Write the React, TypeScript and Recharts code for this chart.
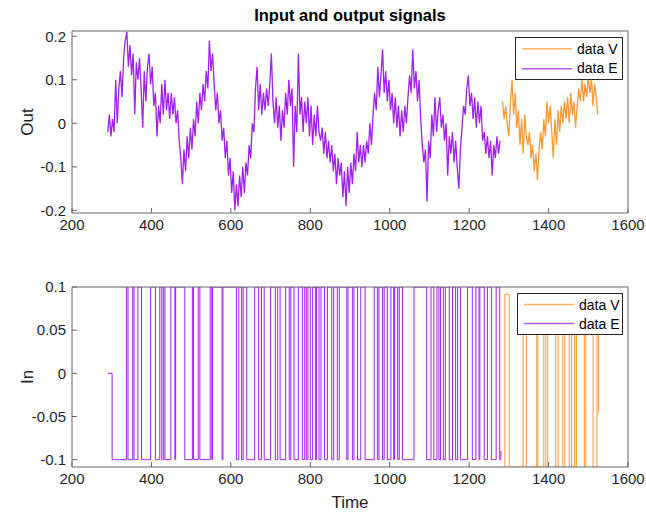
import React from "react";
import { LineChart, Line, XAxis, YAxis, Legend, Label } from "recharts";

// output signal, sampled every 4 time units
const OUT_STEP = 4;
const outEStart = 290;
const outE = [
  -0.02, 0.02, -0.03, 0.01, -0.02, 0.10, 0.00, 0.08, 0.12, 0.06,
  0.15, 0.19, 0.21, 0.13, 0.18, 0.11, 0.16, 0.02, 0.14, 0.10,
  0.15, 0.08, -0.01, 0.12, 0.05, 0.13, 0.16, 0.09, 0.13, 0.04,
  0.07, -0.03, 0.04, 0.00, 0.09, 0.02, 0.10, 0.03, 0.07, 0.01,
  0.07, 0.02, 0.06, 0.00, 0.03, -0.04, -0.08, -0.14, -0.06, -0.11,
  -0.03, -0.08, -0.01, -0.06, 0.01, -0.03, 0.05, 0.00, 0.07, 0.03,
  0.09, 0.05, 0.12, 0.08, 0.19, 0.12, 0.16, 0.09, 0.03, 0.07,
  0.00, 0.03, -0.04, -0.01, -0.08, -0.04, -0.12, -0.08, -0.16, -0.11,
  -0.20, -0.14, -0.19, -0.12, -0.17, -0.10, -0.16, -0.09, -0.12, -0.05,
  -0.08, 0.00, -0.02, 0.08, 0.13, 0.03, 0.09, 0.02, 0.07, 0.03,
  0.08, 0.04, 0.09, 0.16, 0.05, 0.00, 0.06, -0.01, 0.04, -0.04,
  0.03, -0.01, 0.07, 0.02, 0.10, 0.04, 0.08, -0.10, 0.04, -0.02,
  0.16, 0.02, 0.06, -0.02, 0.05, 0.00, 0.06, -0.03, 0.04, -0.05,
  0.02, -0.03, 0.04, -0.02, -0.04, -0.01, -0.07, -0.02, -0.08, -0.04,
  -0.09, -0.05, -0.11, -0.07, -0.14, -0.08, -0.12, -0.09, -0.17, -0.11,
  -0.19, -0.10, -0.16, -0.09, -0.14, -0.07, -0.11, -0.02, -0.09, -0.05,
  -0.10, -0.05, -0.09, -0.04, -0.07, 0.00, -0.05, 0.02, 0.07, 0.03,
  0.13, 0.06, 0.11, 0.17, 0.07, 0.12, 0.05, 0.10, 0.03, 0.07,
  0.00, 0.06, -0.01, 0.04, -0.03, 0.03, -0.02, 0.04, 0.00, 0.06,
  0.11, 0.07, 0.17, 0.08, 0.12, 0.05, 0.10, 0.01, -0.05, -0.09,
  -0.06, -0.18, -0.04, -0.08, 0.02, -0.03, 0.06, -0.02, 0.03, 0.06,
  -0.01, 0.02, -0.04, 0.00, -0.12, -0.03, -0.07, -0.02, -0.09, -0.04,
  -0.10, -0.15, -0.06, -0.01, 0.04, 0.02, 0.08, 0.11, 0.04, 0.07,
  0.01, 0.06, -0.01, 0.05, 0.00, 0.04, -0.04, -0.02, -0.07, -0.03,
  -0.08, -0.04, -0.12, -0.05, -0.08, -0.03, -0.07, -0.04,
];
const outVStart = 1284;
const outV = [
  0.05, 0.01, 0.04, 0.00, -0.03, 0.05, 0.10, 0.02, 0.07, -0.01,
  0.03, -0.05, 0.01, -0.07, 0.02, -0.03, -0.05, -0.02, -0.08, -0.05,
  -0.11, -0.07, -0.13, -0.06, -0.02, -0.06, 0.01, -0.03, 0.05, 0.00,
  0.04, -0.02, -0.08, 0.01, -0.05, 0.03, -0.02, 0.04, 0.00, 0.05,
  0.01, 0.06, 0.00, 0.07, 0.02, 0.05, -0.01, 0.04, 0.08, 0.05,
  0.10, 0.05, 0.09, 0.06, 0.11, 0.07, 0.10, 0.04, 0.09, 0.06,
  0.02,
];

// input signal: [time, level] at every switch
const inE: [number, number][] = [
  [290, 0], [301, -0.1], [337, 0.1], [341, -0.1], [353, 0.1], [356, -0.1],
  [366, 0.1], [375, -0.1], [398, 0.1], [410, -0.1], [421, 0.1], [426, -0.1],
  [430, 0.1], [434, -0.1], [449, 0.1], [459, -0.1], [461, 0.1], [484, -0.1],
  [503, 0.1], [506, -0.1], [518, 0.1], [522, -0.1], [548, 0.1], [552, -0.1],
  [554, 0.1], [578, -0.1], [580, 0.1], [614, -0.1], [620, 0.1], [627, -0.1],
  [631, 0.1], [640, -0.1], [660, 0.1], [670, -0.1], [677, 0.1], [684, -0.1],
  [700, 0.1], [712, -0.1], [718, 0.1], [724, -0.1], [738, 0.1], [747, -0.1],
  [751, 0.1], [759, -0.1], [770, 0.1], [780, -0.1], [786, 0.1], [790, -0.1],
  [794, 0.1], [800, -0.1], [806, 0.1], [813, -0.1], [816, 0.1], [822, -0.1],
  [827, 0.1], [836, -0.1], [843, 0.1], [854, -0.1], [859, 0.1], [868, -0.1],
  [873, 0.1], [892, -0.1], [895, 0.1], [906, -0.1], [910, 0.1], [919, -0.1],
  [927, 0.1], [938, -0.1], [961, 0.1], [969, -0.1], [973, 0.1], [982, -0.1],
  [986, 0.1], [994, -0.1], [1003, 0.1], [1010, -0.1], [1012, 0.1], [1020, -0.1],
  [1024, 0.1], [1032, -0.1], [1061, 0.1], [1093, -0.1], [1104, 0.1], [1111, -0.1],
  [1119, 0.1], [1124, -0.1], [1128, 0.1], [1135, -0.1], [1140, 0.1], [1150, -0.1],
  [1158, 0.1], [1166, -0.1], [1171, 0.1], [1178, -0.1], [1196, 0.1], [1208, -0.1],
  [1217, 0.1], [1225, -0.1], [1227, 0.1], [1238, -0.1], [1246, 0.1], [1256, -0.1],
  [1268, 0.1], [1277, -0.1], [1280, -0.09],
];
const inV: [number, number][] = [
  [1282, -0.1085], [1290, 0.0915], [1301, -0.1085], [1336, 0.0915], [1344, -0.1085],
  [1370, 0.0915], [1373, -0.1085], [1388, 0.0915], [1393, -0.1085], [1398, 0.0915],
  [1418, -0.1085], [1424, 0.0915], [1436, -0.1085], [1441, 0.0915], [1452, -0.1085],
  [1458, 0.0915], [1466, -0.1085], [1470, 0.0915], [1490, -0.1085], [1494, 0.0915],
  [1512, -0.1085], [1522, 0.0915], [1526, -0.045],
];

const timeTicks = [200, 400, 600, 800, 1000, 1200, 1400, 1600];
const outTicks = [-0.2, -0.1, 0, 0.1, 0.2];
const inTicks = [-0.1, -0.05, 0, 0.05, 0.1];
const legendOrder = ["data V", "data E"];

const PURPLE = "#A020F0";
const ORANGE = "#FF9933";
const AXIS = "#666";
const FONT = "'Liberation Sans', Arial, sans-serif";

const outEData = outE.map((v, i) => ({ t: outEStart + i * OUT_STEP, v }));
const outVData = outV.map((v, i) => ({ t: outVStart + i * OUT_STEP, v }));
const inEData = inE.map(([t, v]) => ({ t, v }));
const inVData = inV.map(([t, v]) => ({ t, v }));

const tickStyle = { fill: "#262626", fontSize: 15, fontFamily: FONT };
const fmtNum = (v: number) => String(v);
const blank = () => "";

function LegendBox({ payload, rowH }: any) {
  const items = legendOrder
    .map((name) => (payload || []).find((p: any) => p.value === name))
    .filter(Boolean);
  return (
    <div style={{ border: "1px solid #262626", background: "#fff", padding: "1px 0", fontFamily: FONT, fontSize: 14, color: "#000" }}>
      {items.map((p: any) => (
        <div key={p.value} style={{ height: rowH, display: "flex", alignItems: "center" }}>
          <svg width={56} height={rowH} style={{ marginLeft: 5 }}>
            <line x1={1} x2={51} y1={rowH / 2} y2={rowH / 2} stroke={p.color} strokeWidth={1.5} opacity={0.75} />
          </svg>
          <span>{p.value}</span>
        </div>
      ))}
    </div>
  );
}

export default function App() {
  return (
    <div style={{ position: "absolute", left: 0, top: 0, width: 646, height: 513, background: "#fff", fontFamily: FONT }}>
      <div style={{ position: "absolute", left: 0, width: 700, top: 6, textAlign: "center", fontWeight: "bold", fontSize: 16.5, color: "#000" }}>
        Input and output signals
      </div>

      <div style={{ position: "absolute", left: 0, top: 0 }}>
        <LineChart width={646} height={250} margin={{ top: 30, right: 17, left: 0, bottom: 7 }}>
          <XAxis dataKey="t" type="number" domain={[200, 1600]} ticks={timeTicks} allowDataOverflow
            tickSize={-5} tickMargin={11} tick={tickStyle} stroke={AXIS} height={30} tickFormatter={fmtNum} />
          <XAxis xAxisId="top" orientation="top" type="number" domain={[200, 1600]} ticks={timeTicks}
            tickSize={-5} stroke={AXIS} height={1} tickFormatter={blank} />
          <YAxis type="number" domain={[-0.206, 0.212]} ticks={outTicks} allowDataOverflow width={72}
            tickSize={-5} tickMargin={11} tick={tickStyle} stroke={AXIS} tickFormatter={fmtNum}>
            <Label value="Out" angle={-90} position="insideLeft" offset={27}
              style={{ textAnchor: "middle", fontSize: 17, fontFamily: FONT, fill: "#262626" }} />
          </YAxis>
          <YAxis yAxisId="r" orientation="right" type="number" domain={[-0.206, 0.212]} ticks={outTicks}
            width={1} tickSize={-5} stroke={AXIS} tickFormatter={blank} />
          <Line data={outVData} dataKey="v" name="data V" stroke={ORANGE} strokeWidth={1.3} dot={false} isAnimationActive={false} />
          <Line data={outEData} dataKey="v" name="data E" stroke={PURPLE} strokeWidth={1.3} dot={false} isAnimationActive={false} />
          <Legend layout="horizontal" verticalAlign="middle"
            wrapperStyle={{ left: 515, top: 37, width: 108, height: "auto" }}
            content={(props: any) => <LegendBox {...props} rowH={19.5} />} />
        </LineChart>
      </div>

      <div style={{ position: "absolute", left: 0, top: 250 }}>
        <LineChart width={646} height={263} margin={{ top: 36, right: 17, left: 0, bottom: 0 }}>
          <XAxis dataKey="t" type="number" domain={[200, 1600]} ticks={timeTicks} allowDataOverflow
            tickSize={-5} tickMargin={11} tick={tickStyle} stroke={AXIS} height={46} tickFormatter={fmtNum}>
            <Label value="Time" position="insideBottom" offset={5}
              style={{ fontSize: 17, fontFamily: FONT, fill: "#262626" }} />
          </XAxis>
          <XAxis xAxisId="top" orientation="top" type="number" domain={[200, 1600]} ticks={timeTicks}
            tickSize={-5} stroke={AXIS} height={1} tickFormatter={blank} />
          <YAxis type="number" domain={[-0.1085, 0.1]} ticks={inTicks} allowDataOverflow width={72}
            tickSize={-5} tickMargin={11} tick={tickStyle} stroke={AXIS} tickFormatter={fmtNum}>
            <Label value="In" angle={-90} position="insideLeft" offset={27}
              style={{ textAnchor: "middle", fontSize: 17, fontFamily: FONT, fill: "#262626" }} />
          </YAxis>
          <YAxis yAxisId="r" orientation="right" type="number" domain={[-0.1085, 0.1]} ticks={inTicks}
            width={1} tickSize={-5} stroke={AXIS} tickFormatter={blank} />
          <Line data={inVData} dataKey="v" name="data V" type="stepAfter" stroke={ORANGE} strokeWidth={1} dot={false} isAnimationActive={false} />
          <Line data={inEData} dataKey="v" name="data E" type="stepAfter" stroke={PURPLE} strokeWidth={1} dot={false} isAnimationActive={false} />
          <Legend layout="horizontal" verticalAlign="middle"
            wrapperStyle={{ left: 517, top: 43, width: 106, height: "auto" }}
            content={(props: any) => <LegendBox {...props} rowH={19} />} />
        </LineChart>
      </div>
    </div>
  );
}
